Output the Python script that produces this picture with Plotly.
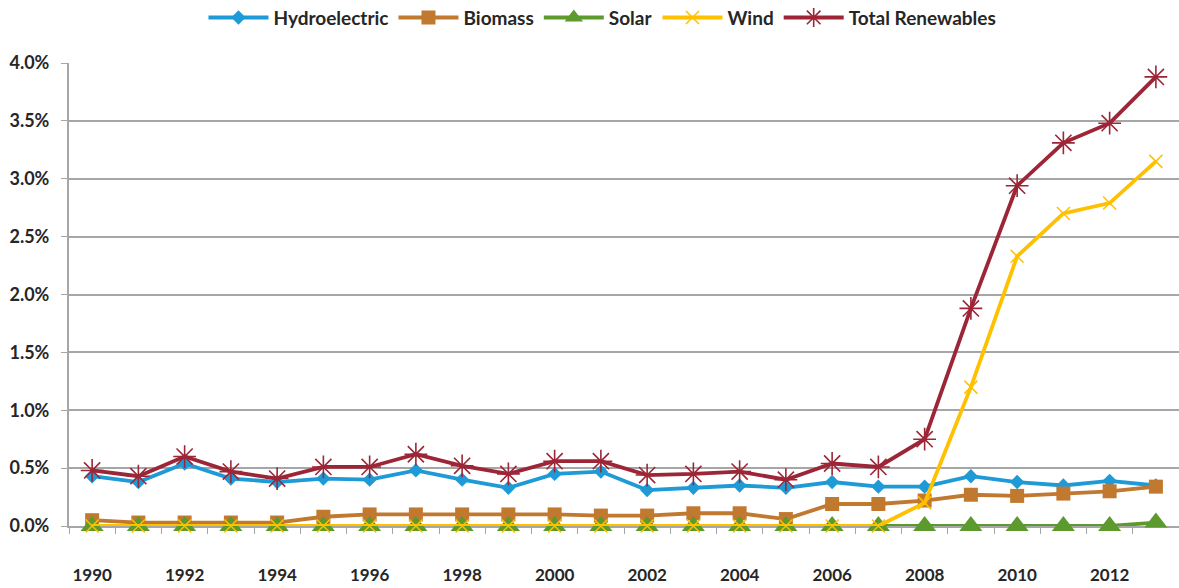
import plotly.graph_objects as go

years = list(range(1990, 2014))

hydro = [0.43, 0.38, 0.54, 0.41, 0.38, 0.41, 0.40, 0.48, 0.40, 0.33, 0.45, 0.47,
         0.31, 0.33, 0.35, 0.33, 0.38, 0.34, 0.34, 0.43, 0.38, 0.35, 0.39, 0.35]
biomass = [0.05, 0.03, 0.03, 0.03, 0.03, 0.08, 0.10, 0.10, 0.10, 0.10, 0.10, 0.09,
           0.09, 0.11, 0.11, 0.06, 0.19, 0.19, 0.22, 0.27, 0.26, 0.28, 0.30, 0.34]
solar = [0.0, 0.0, 0.0, 0.0, 0.0, 0.0, 0.0, 0.0, 0.0, 0.0, 0.0, 0.0,
         0.0, 0.0, 0.0, 0.0, 0.0, 0.0, 0.0, 0.0, 0.0, 0.0, 0.0, 0.03]
wind = [0.0, 0.0, 0.0, 0.0, 0.0, 0.0, 0.0, 0.0, 0.0, 0.0, 0.0, 0.0,
        0.0, 0.0, 0.0, 0.0, 0.0, 0.0, 0.20, 1.20, 2.33, 2.70, 2.79, 3.15]
total = [0.48, 0.43, 0.60, 0.47, 0.41, 0.51, 0.51, 0.62, 0.52, 0.45, 0.56, 0.56,
         0.44, 0.45, 0.47, 0.40, 0.54, 0.51, 0.75, 1.88, 2.94, 3.31, 3.48, 3.88]

year_labels = [str(y) for y in range(1990, 2013, 2)]
y_ticks = [0, 0.5, 1.0, 1.5, 2.0, 2.5, 3.0, 3.5, 4.0]

FONT = "Lato"
TEXT = "#262626"
GRID = "#A6A6A6"

series = [
    ("Hydroelectric", hydro, "#1E9AD6", dict(symbol="diamond", size=11)),
    ("Biomass", biomass, "#C1782F", dict(symbol="square", size=14)),
    ("Solar", solar, "#5C9A2E", dict(symbol="triangle-up", size=20)),
    ("Wind", wind, "#FFC000", dict(symbol="x-thin-open", size=13, line=dict(width=1.5, color="#FFD24D"))),
    ("Total Renewables", total, "#9C2637",
     dict(symbol="asterisk-open", size=19, line=dict(width=1.6, color="#A8404F"))),
]

fig = go.Figure()
for name, vals, color, marker in series:
    fig.add_trace(
        go.Scatter(
            x=years,
            y=[v / 100 for v in vals],
            mode="lines+markers",
            name=name,
            line=dict(color=color, width=3.8),
            marker=dict(color=color, **marker),
            cliponaxis=False,
        )
    )

fig.update_layout(
    width=1179,
    height=588,
    paper_bgcolor="white",
    plot_bgcolor="white",
    margin=dict(l=69, r=0, t=63, b=62),
    font=dict(family=FONT, size=17, color=TEXT),
    showlegend=True,
    legend=dict(
        orientation="h",
        xref="container",
        yref="container",
        x=0.511,
        xanchor="center",
        y=0.97,
        yanchor="middle",
        font=dict(family=FONT, size=19, color=TEXT, weight="bold"),
        itemwidth=60,
        tracegroupgap=0,
    ),
)

fig.update_xaxes(
    range=[1989.5, 2013.5],
    tickmode="array",
    tickvals=[int(t) for t in year_labels],
    ticktext=year_labels,
    ticks="",
    ticklabelstandoff=33,
    tickfont=dict(family=FONT, size=17, color=TEXT, weight="bold"),
    showgrid=False,
    showline=True,
    linecolor=GRID,
    linewidth=2,
    zeroline=False,
    automargin=False,
    layer="below traces",
    minor=dict(tick0=1989.5, dtick=1, ticks="outside", ticklen=6, tickcolor=GRID, tickwidth=1, showgrid=False),
)

fig.update_yaxes(
    range=[0, 0.04],
    tickmode="array",
    tickvals=[t / 100 for t in y_ticks],
    ticktext=[f"{t:.1f}%" for t in y_ticks],
    ticks="outside",
    ticklen=6,
    tickcolor=GRID,
    ticklabelstandoff=8,
    tickfont=dict(family=FONT, size=18, color=TEXT, weight="bold"),
    showgrid=True,
    gridcolor=GRID,
    gridwidth=2,
    showline=True,
    linecolor=GRID,
    linewidth=2,
    zeroline=False,
    automargin=False,
    layer="below traces",
)

fig.write_html(
    "out.html",
    config={"displayModeBar": False},
    post_script="document.body.style.margin='0';",
)
